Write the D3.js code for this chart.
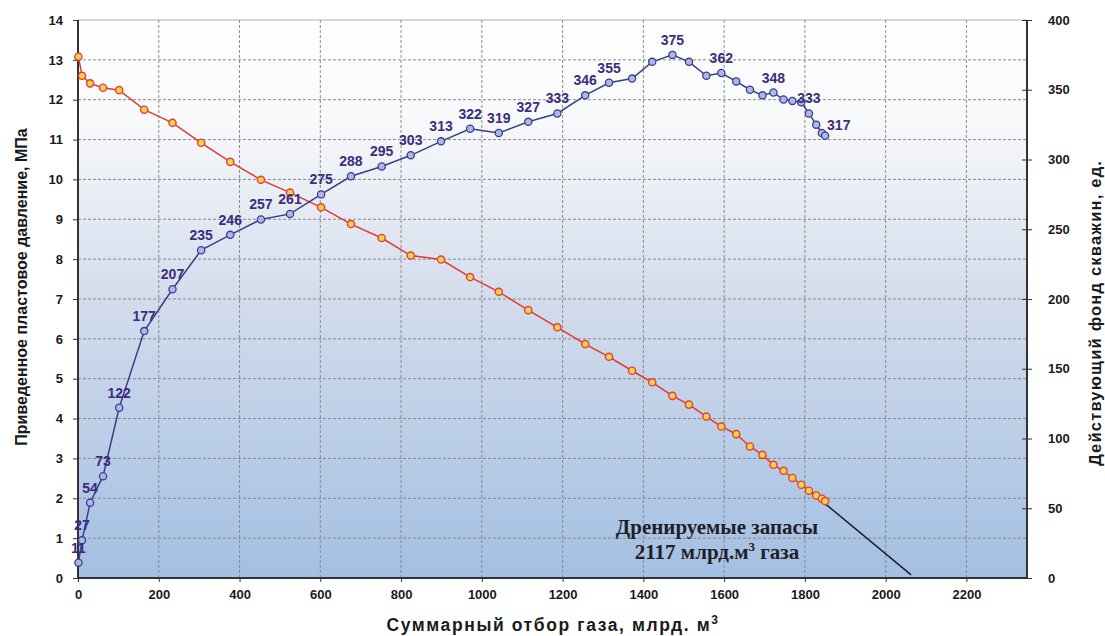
<!DOCTYPE html>
<html>
  <head>
    <meta charset="utf-8">
    <title>Pressure and wells vs cumulative gas</title>
    <style>
      body { margin: 0; background: #fff; }
      text { font-family: "Liberation Sans", Arial, sans-serif; }
    </style>
  </head>
  <body>
    <script src="https://cdnjs.cloudflare.com/ajax/libs/d3/7.8.5/d3.min.js"></script>
    <script>
      // cumulative gas production, bln m3 (shared by both series)
      let production = [1, 10, 30, 62, 102, 164, 234, 305, 377, 453, 525, 602, 676, 752, 824, 899,
                        971, 1042, 1115, 1187, 1256, 1315, 1372, 1422, 1472, 1513, 1556, 1593, 1630,
                        1664, 1695, 1722, 1747, 1769, 1791, 1810, 1828, 1842, 1850];
      // reduced reservoir pressure, MPa
      let pressure = [13.08, 12.6, 12.41, 12.3, 12.24, 11.75, 11.42, 10.92, 10.44, 9.99, 9.67, 9.30,
                      8.88, 8.53, 8.09, 7.99, 7.55, 7.18, 6.72, 6.29, 5.87, 5.55, 5.20, 4.91, 4.57,
                      4.35, 4.05, 3.80, 3.61, 3.30, 3.09, 2.84, 2.69, 2.51, 2.34, 2.19, 2.07, 1.99, 1.93];
      // active well count
      let wells = [11, 27, 54, 73, 122, 177, 207, 235, 246, 257, 261, 275, 288, 295, 303, 313, 322,
                   319, 327, 333, 346, 355, 358, 370, 375, 370, 360, 362, 356, 350, 346, 348, 343,
                   342, 341, 333, 325, 319, 317];
      // which well points carry a value label
      let labelIdx = [0, 1, 2, 3, 4, 5, 6, 7, 8, 9, 10, 11, 12, 13, 14, 15, 16, 17, 18, 19, 20, 21,
                      24, 27, 31, 35, 38];
      // extrapolation to zero pressure
      let trendX = [1803, 2063];
      let trendY = [2.26, 0.08];

      let xTicks = [0, 200, 400, 600, 800, 1000, 1200, 1400, 1600, 1800, 2000, 2200];
      let yTicks = [0, 1, 2, 3, 4, 5, 6, 7, 8, 9, 10, 11, 12, 13, 14];
      let y2Ticks = [0, 50, 100, 150, 200, 250, 300, 350, 400];

      let W = 1105, H = 636;
      let mLeft = 78, mRight = 1027, mTop = 20, mBottom = 578;

      let svg = d3.select('body')
                  .append('svg')
                  .attr('width', W)
                  .attr('height', H);

      let x = d3.scaleLinear().domain([0, 2350]).range([mLeft, mRight]);
      let y = d3.scaleLinear().domain([0, 14]).range([mBottom, mTop]);
      let y2 = d3.scaleLinear().domain([0, 400]).range([mBottom, mTop]);

      // background gradient
      let grad = svg.append('defs').append('linearGradient')
                    .attr('id', 'bg')
                    .attr('x1', 0).attr('y1', 0).attr('x2', 0).attr('y2', 1);
      grad.append('stop').attr('offset', '0%').attr('stop-color', '#ffffff');
      grad.append('stop').attr('offset', '18%').attr('stop-color', '#f8f9fb');
      grad.append('stop').attr('offset', '50%').attr('stop-color', '#d3dcec');
      grad.append('stop').attr('offset', '100%').attr('stop-color', '#a3bfe2');

      svg.append('rect')
         .attr('x', mLeft).attr('y', mTop)
         .attr('width', mRight - mLeft).attr('height', mBottom - mTop)
         .attr('fill', 'url(#bg)');

      // grid
      svg.append('g').selectAll('line')
         .data(yTicks.slice(1))
         .enter().append('line')
           .attr('x1', mLeft).attr('x2', mRight)
           .attr('y1', d => y(d)).attr('y2', d => y(d))
           .attr('stroke', d => d === 14 ? '#b0b0b0' : '#8a8a8a')
           .attr('stroke-width', 1)
           .attr('stroke-dasharray', d => d === 14 ? null : '3 2');

      svg.append('g').selectAll('line')
         .data(xTicks.slice(1))
         .enter().append('line')
           .attr('x1', d => x(d)).attr('x2', d => x(d))
           .attr('y1', mTop).attr('y2', mBottom)
           .attr('stroke', '#8a8a8a')
           .attr('stroke-width', 1)
           .attr('stroke-dasharray', '3 2');

      // axes
      let axisFont = g => {
        g.selectAll('text')
         .style('font-family', '"Liberation Sans", Arial, sans-serif')
         .style('font-size', '13px')
         .style('font-weight', 'bold')
         .attr('fill', '#1a1a1a');
        g.selectAll('line').attr('stroke', '#333');
        g.select('.domain').attr('stroke', '#333').attr('stroke-width', 2);
      };

      svg.append('g')
         .attr('transform', `translate(0,${mBottom})`)
         .call(d3.axisBottom(x).tickValues(xTicks).tickFormat(d3.format('d')).tickSize(4).tickPadding(8))
         .call(axisFont)
         .call(g => g.select('.domain').attr('d', `M${mLeft},0H${mRight}`));

      svg.append('g')
         .attr('transform', `translate(${mLeft},0)`)
         .call(d3.axisLeft(y).tickValues(yTicks).tickSize(5).tickPadding(10))
         .call(axisFont)
         .call(g => g.select('.domain').attr('d', `M0,${mTop}V${mBottom}`));

      svg.append('g')
         .attr('transform', `translate(${mRight},0)`)
         .call(d3.axisRight(y2).tickValues(y2Ticks).tickSize(5).tickPadding(16))
         .call(axisFont)
         .call(g => g.selectAll('.tick line').attr('x1', -5))
         .call(g => g.select('.domain').attr('d', `M0,${mTop}V${mBottom}`));

      // pressure series
      let pts = production.map((p, i) => ({ p: p, pr: pressure[i], w: wells[i], i: i }));

      let linePr = d3.line().x(d => x(d.p)).y(d => y(d.pr));
      let lineW = d3.line().x(d => x(d.p)).y(d => y2(d.w));

      svg.append('path')
         .attr('d', linePr(pts))
         .attr('fill', 'none')
         .attr('stroke', '#e23a30')
         .attr('stroke-width', 1.5);

      svg.append('path')
         .attr('d', d3.line()(trendX.map((v, i) => [x(v), y(trendY[i])])))
         .attr('fill', 'none')
         .attr('stroke', '#1e1e28')
         .attr('stroke-width', 1.5);

      svg.append('g').selectAll('circle')
         .data(pts)
         .enter().append('circle')
           .attr('cx', d => x(d.p))
           .attr('cy', d => y(d.pr))
           .attr('r', 3.6)
           .attr('fill', '#fbd04a')
           .attr('stroke', '#e0403a')
           .attr('stroke-width', 1.4);

      // wells series
      svg.append('path')
         .attr('d', lineW(pts))
         .attr('fill', 'none')
         .attr('stroke', '#3d3c86')
         .attr('stroke-width', 1.5);

      svg.append('g').selectAll('circle')
         .data(pts)
         .enter().append('circle')
           .attr('cx', d => x(d.p))
           .attr('cy', d => y2(d.w))
           .attr('r', 3.6)
           .attr('fill', '#a9b9ea')
           .attr('stroke', '#3d3f8e')
           .attr('stroke-width', 1.3);

      let last = production.length - 1;
      svg.append('g').selectAll('text')
         .data(labelIdx.map(i => pts[i]))
         .enter().append('text')
           .attr('x', d => d.i === last ? x(d.p) + 2 : x(d.p))
           .attr('y', d => d.i === last ? y2(d.w) - 6 : y2(d.w) - 10)
           .attr('text-anchor', d => d.i === last ? 'start' : 'middle')
           .style('font-size', '14px')
           .style('font-weight', 'bold')
           .attr('fill', '#3b2d7c')
           .text(d => d.w);

      // annotation
      let note = svg.append('text')
                    .attr('text-anchor', 'middle')
                    .style('font-family', '"Liberation Serif", "Times New Roman", serif')
                    .style('font-size', '21px')
                    .style('font-weight', 'bold')
                    .attr('fill', '#1f1f28');
      note.append('tspan').attr('x', 717).attr('y', 534).text('Дренируемые запасы');
      let l2 = note.append('tspan').attr('x', 717).attr('y', 559);
      l2.append('tspan').text('2117 млрд.м');
      l2.append('tspan').attr('dy', -8).style('font-size', '13px').text('3');
      l2.append('tspan').attr('dy', 8).text(' газа');

      // axis titles
      let xt = svg.append('text')
                  .attr('x', 553).attr('y', 631)
                  .attr('text-anchor', 'middle')
                  .style('font-size', '17.5px')
                  .style('font-weight', 'bold')
                  .style('letter-spacing', '1.6px')
                  .attr('fill', '#1a1a1a');
      xt.append('tspan').text('Суммарный  отбор газа, млрд.  м');
      xt.append('tspan').attr('dy', -7).style('font-size', '12px').text('3');

      svg.append('text')
         .attr('transform', 'translate(27,287) rotate(-90)')
         .attr('text-anchor', 'middle')
         .style('font-size', '16px')
         .style('font-weight', 'bold')
         .attr('fill', '#1a1a1a')
         .text('Приведенное пластовое давление, МПа');

      svg.append('text')
         .attr('transform', 'translate(1101,313) rotate(-90)')
         .attr('text-anchor', 'middle')
         .style('font-size', '16.5px')
         .style('font-weight', 'bold')
         .style('letter-spacing', '1.2px')
         .attr('fill', '#1a1a1a')
         .text('Действующий фонд скважин, ед.');
    </script>
  </body>
</html>
